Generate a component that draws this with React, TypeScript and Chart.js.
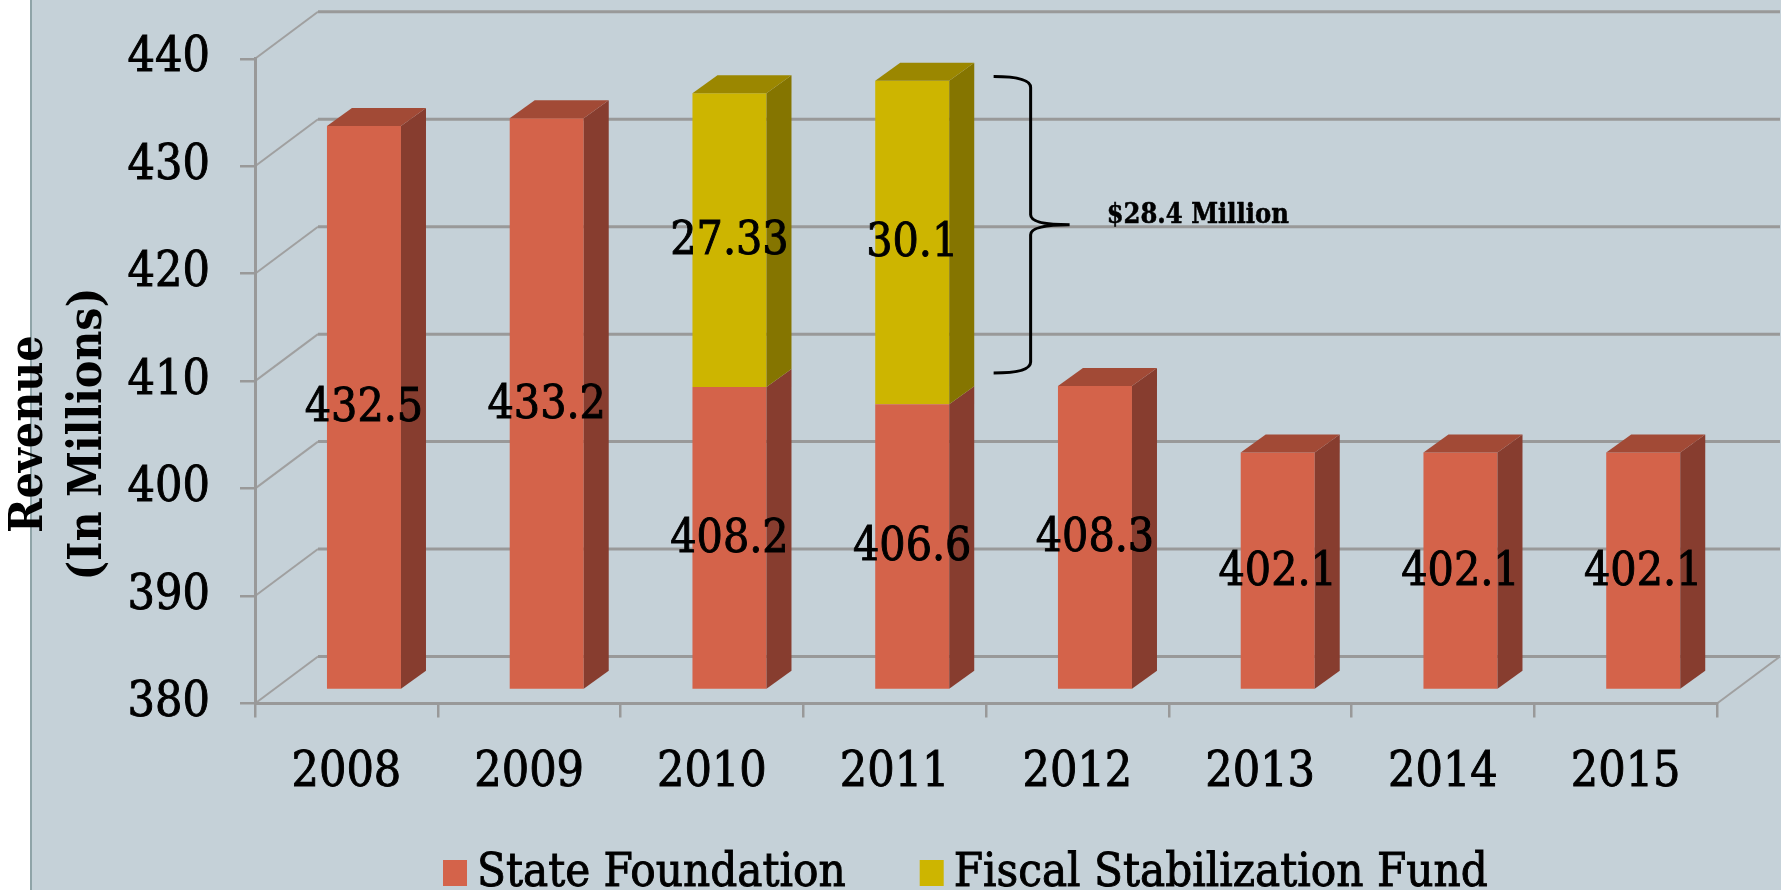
import React, { useEffect, useRef } from 'react';
import { Chart, registerables } from 'chart.js';

Chart.register(...registerables);

// ---------- data ----------
const categories = ['2008', '2009', '2010', '2011', '2012', '2013', '2014', '2015'];
const stateFoundation = [432.5, 433.2, 408.2, 406.6, 408.3, 402.1, 402.1, 402.1];
const fiscalStabilization: (number | null)[] = [null, null, 27.33, 30.1, null, null, null, null];
const seriesNames = ['State Foundation', 'Fiscal Stabilization Fund'];
const yTicks = [380, 390, 400, 410, 420, 430, 440];
const axisTitle = ['Revenue', '(In Millions)'];
const braceLabel = '$28.4 Million';
const braceRange = [409.5, 437.1];
const braceCategory = 3;

// ---------- styles ----------
const FACE = [
  { front: '#D4634A', side: '#873D2F', top: '#A24A36' },
  { front: '#CDB500', side: '#857500', top: '#9B8700' },
];
const SERIF = '"DejaVu Serif Condensed", "DejaVu Serif", serif';
const WALL = { dx: 63, dy: -47 };
const BAR_OFF = { dx: 17.6, dy: -13.5 };
const BAR_DEPTH = { dx: 25, dy: -18 };
const GRID = '#999999';
const HEAVY = 0.9;

function heavyText(ctx: CanvasRenderingContext2D, t: string, x: number, y: number) {
  ctx.fillText(t, x, y);
  ctx.strokeText(t, x, y);
}

const threeD = {
  id: 'threeD',
  beforeDraw(chart: any) {
    const { ctx, width, height, chartArea: a, scales } = chart;
    const y = scales.y;
    ctx.save();
    ctx.fillStyle = '#ffffff';
    ctx.fillRect(0, 0, width, height);
    ctx.fillStyle = '#C5D1D8';
    ctx.fillRect(31, 0, width - 31, height);
    ctx.fillStyle = '#8FA4A8';
    ctx.fillRect(30, 0, 2, height);
    yTicks.forEach((v) => {
      const py = y.getPixelForValue(v);
      ctx.strokeStyle = '#A0A0A0';
      ctx.lineWidth = 2;
      ctx.beginPath();
      ctx.moveTo(a.left, py);
      ctx.lineTo(a.left + WALL.dx, py + WALL.dy);
      ctx.stroke();
      ctx.strokeStyle = GRID;
      ctx.lineWidth = 3;
      ctx.beginPath();
      ctx.moveTo(a.left + WALL.dx, py + WALL.dy);
      ctx.lineTo(a.right + WALL.dx, py + WALL.dy);
      ctx.stroke();
    });
    ctx.strokeStyle = '#A0A0A0';
    ctx.lineWidth = 2;
    ctx.beginPath();
    ctx.moveTo(a.right, a.bottom);
    ctx.lineTo(a.right + WALL.dx, a.bottom + WALL.dy);
    ctx.stroke();
    ctx.restore();
  },
  beforeDatasetsDraw(chart: any) {
    chart.ctx.save();
    chart.ctx.translate(BAR_OFF.dx, BAR_OFF.dy);
  },
  afterDatasetsDraw(chart: any) {
    const ctx = chart.ctx;
    const metas = chart.data.datasets.map((_: any, d: number) => chart.getDatasetMeta(d));
    categories.forEach((_, i) => {
      let topD = -1;
      let topEl: any = null;
      metas.forEach((m: any, d: number) => {
        const v = chart.data.datasets[d].data[i];
        if (v == null) return;
        const el = m.data[i].getProps(['x', 'y', 'base', 'width'], true);
        const x2 = el.x + el.width / 2;
        ctx.fillStyle = FACE[d].side;
        ctx.beginPath();
        ctx.moveTo(x2, el.y);
        ctx.lineTo(x2 + BAR_DEPTH.dx, el.y + BAR_DEPTH.dy);
        ctx.lineTo(x2 + BAR_DEPTH.dx, el.base + BAR_DEPTH.dy);
        ctx.lineTo(x2, el.base);
        ctx.closePath();
        ctx.fill();
        topD = d;
        topEl = el;
      });
      if (topEl) {
        const x1 = topEl.x - topEl.width / 2;
        const x2 = topEl.x + topEl.width / 2;
        ctx.fillStyle = FACE[topD].top;
        ctx.beginPath();
        ctx.moveTo(x1, topEl.y);
        ctx.lineTo(x2, topEl.y);
        ctx.lineTo(x2 + BAR_DEPTH.dx, topEl.y + BAR_DEPTH.dy);
        ctx.lineTo(x1 + BAR_DEPTH.dx, topEl.y + BAR_DEPTH.dy);
        ctx.closePath();
        ctx.fill();
      }
    });
    ctx.font = `46px ${SERIF}`;
    ctx.fillStyle = '#000';
    ctx.strokeStyle = '#000';
    ctx.lineWidth = HEAVY;
    ctx.textAlign = 'center';
    ctx.textBaseline = 'middle';
    metas.forEach((m: any, d: number) => {
      chart.data.datasets[d].data.forEach((v: any, i: number) => {
        if (v == null) return;
        const el = m.data[i].getProps(['x', 'y', 'base'], true);
        heavyText(ctx, String(v), el.x, (el.y + el.base) / 2 + 2);
      });
    });
    ctx.restore();
  },
  afterDraw(chart: any) {
    const { ctx, chartArea: a, scales } = chart;
    const y = scales.y;
    const x = scales.x;
    ctx.save();
    // axis title
    ctx.fillStyle = '#000';
    ctx.strokeStyle = '#000';
    ctx.font = `bold 46px ${SERIF}`;
    ctx.textAlign = 'center';
    ctx.textBaseline = 'middle';
    const cy = (a.top + a.bottom) / 2 + 53;
    axisTitle.forEach((t, k) => {
      ctx.save();
      ctx.translate(30 + k * 59.5, cy);
      ctx.rotate(-Math.PI / 2);
      ctx.fillText(t, 0, 0);
      ctx.restore();
    });
    // brace annotation
    const yTop = y.getPixelForValue(braceRange[1]) + BAR_OFF.dy;
    const yBot = y.getPixelForValue(braceRange[0]) + BAR_OFF.dy;
    const yMid = (yTop + yBot) / 2;
    const xL = x.getPixelForValue(braceCategory) + 99;
    const xS = xL + 37;
    const xT = xS + 39;
    ctx.lineWidth = 3;
    ctx.beginPath();
    ctx.moveTo(xL, yTop);
    ctx.quadraticCurveTo(xS, yTop, xS, yTop + 11);
    ctx.lineTo(xS, yMid - 10);
    ctx.quadraticCurveTo(xS, yMid, xT, yMid);
    ctx.moveTo(xT, yMid);
    ctx.quadraticCurveTo(xS, yMid, xS, yMid + 10);
    ctx.lineTo(xS, yBot - 11);
    ctx.quadraticCurveTo(xS, yBot, xL, yBot);
    ctx.stroke();
    ctx.font = `bold 27px ${SERIF}`;
    ctx.textAlign = 'left';
    ctx.textBaseline = 'middle';
    ctx.lineWidth = 0.5;
    heavyText(ctx, braceLabel, xT + 37, yMid - 9);
    // legend
    ctx.font = `47px ${SERIF}`;
    ctx.textBaseline = 'alphabetic';
    ctx.lineWidth = HEAVY;
    let lx = 443;
    seriesNames.forEach((name, d) => {
      ctx.fillStyle = FACE[d].front;
      ctx.fillRect(lx, 860, 24, 26);
      ctx.fillStyle = '#000';
      heavyText(ctx, name, lx + 34, 886);
      lx += 34 + ctx.measureText(name).width + 74;
    });
    ctx.restore();
  },
};

export default function App() {
  const ref = useRef<HTMLCanvasElement>(null);
  useEffect(() => {
    const chart = new Chart(ref.current as HTMLCanvasElement, {
      type: 'bar',
      data: {
        labels: categories,
        datasets: [
          { label: seriesNames[0], data: stateFoundation, backgroundColor: FACE[0].front, base: 380 } as any,
          { label: seriesNames[1], data: fiscalStabilization, backgroundColor: FACE[1].front } as any,
        ],
      },
      options: {
        responsive: false,
        maintainAspectRatio: false,
        animation: false,
        events: [],
        categoryPercentage: 1,
        barPercentage: 0.405,
        layout: { padding: { top: 57, right: 64, left: 0, bottom: 86.5 } },
        plugins: { legend: { display: false }, tooltip: { enabled: false }, title: { display: false } },
        scales: {
          x: {
            stacked: true,
            afterFit: (s: any) => { s.height = 100; },
            grid: { offset: true, drawOnChartArea: false, drawTicks: true, tickLength: 14, color: GRID, lineWidth: 2.5 },
            border: { display: true, color: GRID, width: 3 },
            ticks: { color: '#000', padding: 27, textStrokeColor: '#000', textStrokeWidth: HEAVY, font: { family: SERIF, size: 48 } },
          },
          y: {
            stacked: true,
            min: 380,
            max: 440,
            afterFit: (s: any) => { s.width = 255; },
            afterBuildTicks: (s: any) => { s.ticks = yTicks.map((v) => ({ value: v })); },
            grid: { drawOnChartArea: false, drawTicks: true, tickLength: 15, color: GRID, lineWidth: 2.5 },
            border: { display: true, color: GRID, width: 3 },
            ticks: { color: '#000', padding: 30, textStrokeColor: '#000', textStrokeWidth: HEAVY, font: { family: SERIF, size: 48 } },
          },
        } as any,
      } as any,
      plugins: [threeD as any],
    });
    return () => chart.destroy();
  }, []);
  return (
    <div style={{ position: 'fixed', left: 0, top: 0, width: 1781, height: 890, background: '#fff' }}>
      <canvas ref={ref} width={1781} height={890} style={{ display: 'block', width: 1781, height: 890 }} />
    </div>
  );
}
